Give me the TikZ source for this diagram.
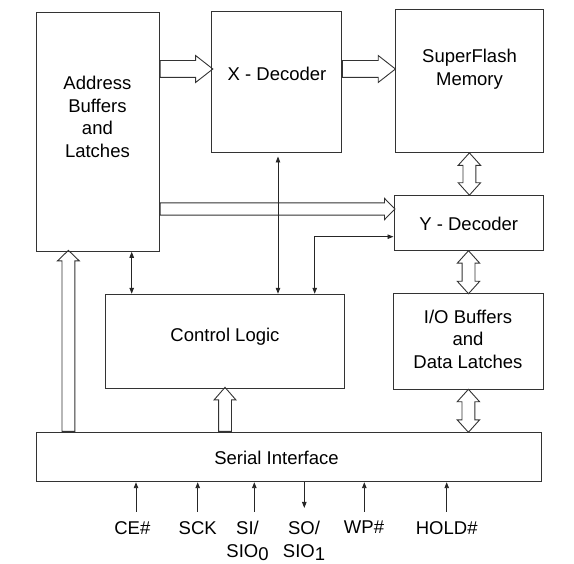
\documentclass[tikz,border=0pt]{standalone}
\usepackage{fontspec}
\setmainfont{Liberation Sans}
\usetikzlibrary{arrows.meta,shapes.arrows,positioning,calc}
\tikzset{
  blk/.style={draw=black!80,line width=1pt,inner sep=0pt},
  txt/.style={align=center,inner sep=0pt,font=\fontsize{18.5}{22.7}\selectfont},
  pinlbl/.style={align=center,inner sep=0pt,anchor=north,font=\fontsize{18.5}{23}\selectfont},
  fat/.style={single arrow,draw=black!80,line width=0.9pt,inner xsep=0pt,inner ysep=6pt,
    single arrow head extend=4.5pt,single arrow tip angle=84,anchor=tail},
  fatboth/.style={double arrow,draw=black!80,line width=0.9pt,inner xsep=0pt,inner ysep=6pt,
    double arrow head extend=4.75pt,double arrow tip angle=84,rotate=90},
  sig/.style={draw=black!85,line width=0.9pt},
}
\begin{document}
\begin{tikzpicture}[x=1pt,y=-1pt,>={Triangle[length=6pt,width=4.5pt]}]
\useasboundingbox (0,0) rectangle (574,564);
% blocks
\node[blk,minimum width=122.4,minimum height=238.6] (addr) at (98,132) {};
\node[blk,minimum width=129.8,minimum height=141] (xdec) at (276.6,82.5) {};
\node[blk,minimum width=148.8,minimum height=143] (mem) at (469.4,81.5) {};
\node[blk,minimum width=149,minimum height=55.7] (ydec) at (468.5,222.9) {};
\node[blk,minimum width=239.4,minimum height=94] (ctrl) at (225.2,341.3) {};
\node[blk,minimum width=150.8,minimum height=95.6] (io) at (468.4,341.5) {};
\node[blk,minimum width=504.7,minimum height=49.4] (serial) at (289.2,457) {};
% block texts
\node[txt] (addr-t) at (97.4,117) {Address\\Buffers\\and\\Latches};
\node[txt] (xdec-t) at (277,74) {X - Decoder};
\node[txt] (mem-t) at (469.5,69.5) {SuperFlash\\Memory};
\node[txt] (ydec-t) at (468.7,224) {Y - Decoder};
\node[txt] (ctrl-t) at (225,336.7) {Control Logic};
\node[txt] (io-t) at (468,339.3) {I/O Buffers\\and\\Data Latches};
\node[txt] (serial-t) at (276.5,458.3) {Serial Interface};
% wide buses
\node[fat,inner ysep=8pt,single arrow head extend=5,single arrow tip angle=76,
  minimum height=52.7] (ax) at (addr.east |- 0,69) {};
\node[fat,inner ysep=8pt,single arrow head extend=5,single arrow tip angle=76,
  minimum height=53] (xm) at (xdec.east |- 0,69) {};
\node[fat,inner ysep=5.7pt,single arrow head extend=4.45,single arrow tip angle=91,
  minimum height=234.8] (ay) at (addr.east |- 0,209) {};
\node[fat,rotate=90,single arrow tip angle=92,minimum height=181] (sa) at (serial.north -| 68.4,0) {};
\node[fat,rotate=90,single arrow tip angle=82,minimum height=44] (sc) at (serial.north -| 225,0) {};
\node[fatboth,minimum height=42.3] (my) at ($(mem.south)!.5!(mem.south |- ydec.north)$) {};
\node[fatboth,minimum height=43] (yi) at ($(ydec.south)!.5!(ydec.south |- io.north)$) {};
\node[fatboth,minimum height=43] (is) at ($(io.south)!.5!(io.south |- serial.north)$) {};
% control lines
\draw[sig,<->] (addr.south -| 131.7,0) -- (ctrl.north -| 131.7,0);
\draw[sig,<->,shorten <=3pt] (xdec.south -| 278,0) -- (ctrl.north -| 278,0);
\draw[sig,<->] (ctrl.north -| 314.7,0) |- (ydec.west |- 0,236.7);
% pins
\foreach \n/\ax/\lx/\t in {ce/136/132.3/CE\#,sck/197.7/197.7/SCK,si/254.3/247.5/{SI/\\SIO\raisebox{-3pt}{0}},
  wp/364.3/364/WP\#,hold/446.7/446.7/HOLD\#} {
  \coordinate (\n) at (\ax,511.7);
  \node[pinlbl] (\n-l) at (\lx,521) {\t};
  \draw[sig,->] (\n) -- (\n |- serial.south);
}
\coordinate (so) at (304.3,508);
\node[pinlbl] (so-l) at (304,521) {SO/\\SIO\raisebox{-3pt}{1}};
\draw[sig,->] (serial.south -| so) -- (so);
\end{tikzpicture}
\end{document}
